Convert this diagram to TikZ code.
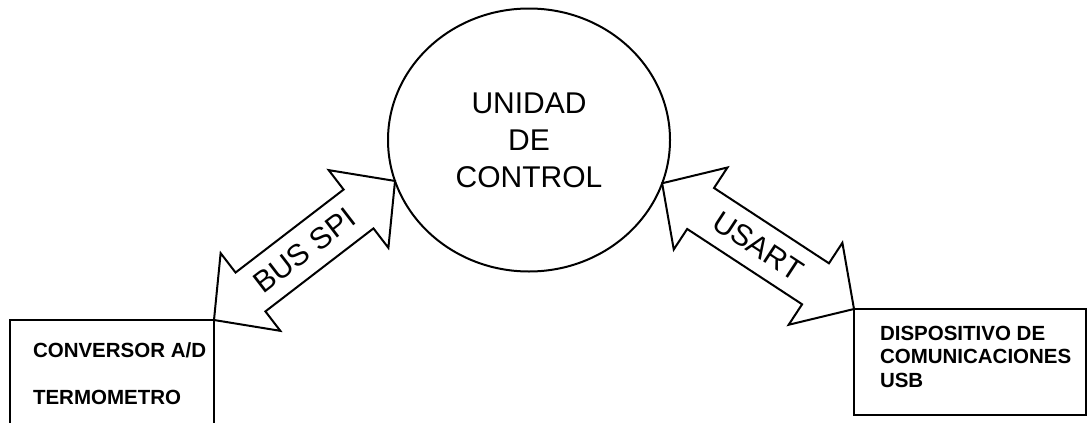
\documentclass[tikz,border=0pt]{standalone}
\usepackage{fontspec}
\setmainfont{Liberation Sans}
\usetikzlibrary{shapes.geometric,calc}
\newcommand\twowayarrow[3]{%
  \coordinate (#1n) at ($(#1)!46pt!(#2)$);
  \coordinate (#2n) at ($(#2)!46pt!(#1)$);
  \draw[busarrow] (#1)
    -- ($(#1n)!49pt!90:(#2)$) -- ($(#1n)!24.5pt!90:(#2)$)
    -- ($(#2n)!24.5pt!-90:(#1)$) -- ($(#2n)!49pt!-90:(#1)$)
    -- (#2)
    -- ($(#2n)!49pt!90:(#1)$) -- ($(#2n)!24.5pt!90:(#1)$)
    -- ($(#1n)!24.5pt!-90:(#2)$) -- ($(#1n)!49pt!-90:(#2)$)
    -- cycle;
  \path (#1) -- (#2) node[buslabel] {#3};
}
\begin{document}
\begin{tikzpicture}[x=1pt,y=-1pt,
  line width=2pt,
  unit/.style={ellipse, draw, minimum width=282pt, minimum height=263pt,
    inner sep=0pt, outer sep=0pt, align=center,
    font=\fontsize{30}{37}\selectfont},
  box/.style={draw, rectangle, inner sep=0pt, outer sep=0pt},
  boxtext/.style={anchor=base west, inner sep=0pt,
    font=\fontsize{20.5}{24}\selectfont\bfseries},
  buslabel/.style={font=\fontsize{30}{34}\selectfont, sloped, midway, inner sep=0pt},
  busarrow/.style={draw, line join=miter}
]
\useasboundingbox (0,0) rectangle (1087,423);

\node[unit] (unit) at (529,140) {UNIDAD\\DE\\CONTROL};

\node[box, minimum width=204pt, minimum height=120pt, anchor=north west] (conv) at (10,320) {};
\node[boxtext] (conv1) at (32,357) {CONVERSOR A/D};
\node[boxtext] (conv2) at (32,404) {TERMOMETRO};

\node[box, minimum width=232pt, minimum height=106pt, anchor=north west] (dev) at (854,309) {};
\node[boxtext] (dev1) at (879,340) {DISPOSITIVO DE};
\node[boxtext] (dev2) at (879,363) {COMUNICACIONES};
\node[boxtext] (dev3) at (879,387) {USB};

\coordinate (spiA) at (conv.north east);
\coordinate (spiB) at (unit.197.8);
\coordinate (usaA) at (unit.342.6);
\coordinate (usaB) at (dev.north west);

\twowayarrow{spiA}{spiB}{BUS SPI}
\twowayarrow{usaA}{usaB}{USART}
\end{tikzpicture}
\end{document}
